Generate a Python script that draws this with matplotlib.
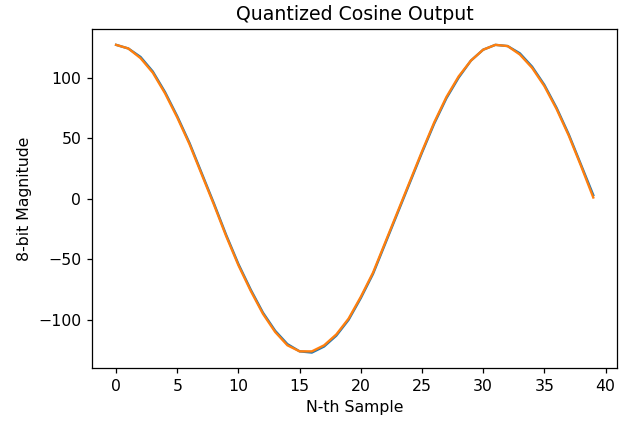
import matplotlib
matplotlib.use("Agg")
import matplotlib.pyplot as plt

samples = list(range(40))
computed = [127, 124, 117, 105, 88, 68, 46, 21, -4, -30, -54, -75, -94, -109, -120,
            -126, -127, -122, -113, -100, -82, -62, -37, -12, 13, 38, 62, 83, 100,
            114, 123, 127, 126, 120, 109, 94, 75, 53, 28, 3]
quantized = [127, 124, 116, 104, 87, 67, 45, 20, -5, -31, -55, -76, -95, -110, -121,
             -126, -126, -121, -112, -99, -81, -61, -36, -11, 14, 39, 63, 84, 101,
             114, 123, 127, 126, 119, 108, 93, 74, 52, 27, 1]

DPI = 113
fig = plt.figure(figsize=(619 / DPI, 421 / DPI), dpi=DPI)
ax = fig.add_axes([0.149, 0.126, 0.848, 0.804])
ax.plot(samples, computed)
ax.plot(samples, quantized)
ax.set_title("Quantized Cosine Output")
ax.set_xlabel("N-th Sample")
ax.set_ylabel("8-bit Magnitude")
fig.savefig("out.png", dpi=DPI)
